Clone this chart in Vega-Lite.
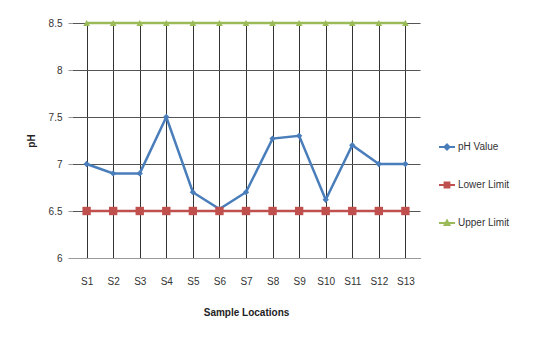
{
  "$schema": "https://vega.github.io/schema/vega-lite/v6.json",
  "width": 348,
  "height": 235,
  "autosize": {"type": "none"},
  "padding": {"left": 72, "top": 23, "right": 115, "bottom": 83},
  "background": "white",
  "config": {
    "view": {"stroke": null},
    "font": "Liberation Sans",
    "axis": {"labelFont": "Liberation Sans", "titleFont": "Liberation Sans", "labelColor": "#333", "titleColor": "#222"}
  },
  "data": {"values": [
    {"loc": "S1", "series": "pH Value", "ph": 7.0},
    {"loc": "S2", "series": "pH Value", "ph": 6.9},
    {"loc": "S3", "series": "pH Value", "ph": 6.9},
    {"loc": "S4", "series": "pH Value", "ph": 7.5},
    {"loc": "S5", "series": "pH Value", "ph": 6.7},
    {"loc": "S6", "series": "pH Value", "ph": 6.52},
    {"loc": "S7", "series": "pH Value", "ph": 6.7},
    {"loc": "S8", "series": "pH Value", "ph": 7.27},
    {"loc": "S9", "series": "pH Value", "ph": 7.3},
    {"loc": "S10", "series": "pH Value", "ph": 6.62},
    {"loc": "S11", "series": "pH Value", "ph": 7.2},
    {"loc": "S12", "series": "pH Value", "ph": 7.0},
    {"loc": "S13", "series": "pH Value", "ph": 7.0},
    {"loc": "S1", "series": "Lower Limit", "ph": 6.5},
    {"loc": "S2", "series": "Lower Limit", "ph": 6.5},
    {"loc": "S3", "series": "Lower Limit", "ph": 6.5},
    {"loc": "S4", "series": "Lower Limit", "ph": 6.5},
    {"loc": "S5", "series": "Lower Limit", "ph": 6.5},
    {"loc": "S6", "series": "Lower Limit", "ph": 6.5},
    {"loc": "S7", "series": "Lower Limit", "ph": 6.5},
    {"loc": "S8", "series": "Lower Limit", "ph": 6.5},
    {"loc": "S9", "series": "Lower Limit", "ph": 6.5},
    {"loc": "S10", "series": "Lower Limit", "ph": 6.5},
    {"loc": "S11", "series": "Lower Limit", "ph": 6.5},
    {"loc": "S12", "series": "Lower Limit", "ph": 6.5},
    {"loc": "S13", "series": "Lower Limit", "ph": 6.5},
    {"loc": "S1", "series": "Upper Limit", "ph": 8.5},
    {"loc": "S2", "series": "Upper Limit", "ph": 8.5},
    {"loc": "S3", "series": "Upper Limit", "ph": 8.5},
    {"loc": "S4", "series": "Upper Limit", "ph": 8.5},
    {"loc": "S5", "series": "Upper Limit", "ph": 8.5},
    {"loc": "S6", "series": "Upper Limit", "ph": 8.5},
    {"loc": "S7", "series": "Upper Limit", "ph": 8.5},
    {"loc": "S8", "series": "Upper Limit", "ph": 8.5},
    {"loc": "S9", "series": "Upper Limit", "ph": 8.5},
    {"loc": "S10", "series": "Upper Limit", "ph": 8.5},
    {"loc": "S11", "series": "Upper Limit", "ph": 8.5},
    {"loc": "S12", "series": "Upper Limit", "ph": 8.5},
    {"loc": "S13", "series": "Upper Limit", "ph": 8.5}
  ]},
  "encoding": {
    "x": {
      "field": "loc", "type": "nominal", "sort": null,
      "scale": {"type": "point", "padding": 0.55},
      "axis": {
        "title": "Sample Locations", "titleFontSize": 10, "titleFontWeight": "bold", "titlePadding": 21,
        "labelAngle": 0, "labelFontSize": 10, "labelPadding": 18,
        "grid": true, "gridColor": "#333", "gridWidth": 1,
        "ticks": false, "domainColor": "#999", "domainWidth": 1
      }
    },
    "y": {
      "field": "ph", "type": "quantitative",
      "scale": {"domain": [6, 8.5], "nice": false, "zero": false},
      "axis": {
        "title": "pH", "titleFontSize": 10, "titleFontWeight": "bold", "titlePadding": 12,
        "values": [6, 6.5, 7, 7.5, 8, 8.5], "format": ".1~f",
        "labelFontSize": 10, "labelPadding": 6,
        "grid": true, "gridColor": "#555", "gridWidth": 1,
        "ticks": true, "tickSize": 4, "tickColor": "#999", "domain": false
      }
    },
    "color": {
      "field": "series", "type": "nominal",
      "scale": {"domain": ["pH Value", "Lower Limit", "Upper Limit"], "range": ["#4A7EBB", "#C0504D", "#9BBB59"]},
      "legend": {
        "title": null, "orient": "none", "legendX": 366, "legendY": 115,
        "symbolType": "M-1,0H1M-0.3,-0.3H0.3V0.3H-0.3Z",
        "symbolSize": 256, "labelFontSize": 10, "labelColor": "#333", "labelOffset": 2, "rowPadding": 22,
        "encode": {
          "symbols": {
            "update": {
              "shape": {"signal": "datum.value === 'pH Value' ? 'M-1,0H1M0,-0.32L0.32,0L0,0.32L-0.32,0Z' : datum.value === 'Lower Limit' ? 'M-1,0H1M-0.3,-0.3H0.3V0.3H-0.3Z' : 'M-1,0H1M0,-0.3L0.3,0.25H-0.3Z'"},
              "fill": {"signal": "scale('color', datum.value)"},
              "stroke": {"signal": "scale('color', datum.value)"},
              "strokeWidth": {"value": 2},
              "opacity": {"value": 1}
            }
          }
        }
      }
    }
  },
  "layer": [
    {"mark": {"type": "line", "strokeWidth": 2.5}},
    {
      "transform": [{"filter": "datum.series === 'pH Value'"}],
      "mark": {"type": "point", "filled": true, "opacity": 1, "shape": "diamond", "size": 40}
    },
    {
      "transform": [{"filter": "datum.series === 'Lower Limit'"}],
      "mark": {"type": "point", "filled": true, "opacity": 1, "shape": "square", "size": 70}
    },
    {
      "transform": [{"filter": "datum.series === 'Upper Limit'"}],
      "mark": {"type": "point", "filled": true, "opacity": 1, "shape": "triangle-up", "size": 45, "color": "#6E8B3D"}
    }
  ]
}
